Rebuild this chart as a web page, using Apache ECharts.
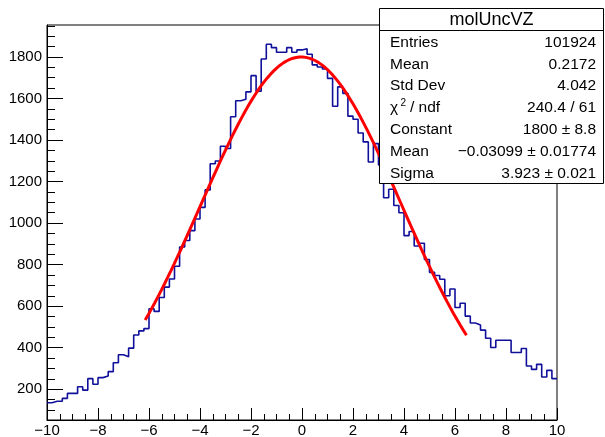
<!DOCTYPE html>
<html>
<head>
<meta charset="utf-8">
<script src="https://cdn.jsdelivr.net/npm/echarts@6.0.0/dist/echarts.min.js"></script>
<style>
html, body { margin: 0; padding: 0; background: #fff; }
#molUncVZ { width: 605px; height: 437px; }
</style>
</head>
<body>
<div id="molUncVZ"></div>
<script>
// histogram: 100 bins from -10 to 10
var binLow = -10;
var binWidth = 0.2;
var counts = [
  135, 142, 142, 156, 180, 180, 212, 196, 251, 224,
  256, 264, 285, 328, 366, 357, 398, 461, 481, 492,
  588, 575, 642, 692, 731, 792, 885, 916, 964, 1020,
  1076, 1160, 1286, 1299, 1370, 1359, 1512, 1589, 1596, 1632,
  1710, 1635, 1790, 1861, 1845, 1823, 1823, 1845, 1823, 1834,
  1840, 1813, 1762, 1752, 1742, 1697, 1563, 1656, 1625, 1515,
  1500, 1434, 1391, 1294, 1383, 1280, 1122, 1163, 1085, 1050,
  940, 960, 890, 903, 825, 763, 748, 730, 650, 683,
  594, 614, 552, 519, 510, 485, 446, 401, 436, 436,
  436, 377, 377, 396, 312, 296, 320, 259, 291, 251
];

// gaus fit (from the stats box)
var fitConstant = 1800;
var fitMean = -0.03099;
var fitSigma = 3.923;
var fitRange = [-6.15, 6.45];

var yMajorTicks = [200, 400, 600, 800, 1000, 1200, 1400, 1600, 1800];

var statNames = ['Entries', 'Mean', 'Std Dev', '', 'Constant', 'Mean', 'Sigma'];
var statValues = ['101924', '0.2172', '4.042', '240.4 / 61', '1800 \u00b1 8.8',
                  '\u22120.03099 \u00b1 0.01774', '3.923 \u00b1 0.021'];

var myChart = echarts.init(document.getElementById('molUncVZ'));

var histData = counts.map(function (c, i) {
  return [binLow + i * binWidth, c];
});
histData.push([binLow + counts.length * binWidth, counts[counts.length - 1]]);

var fitData = [];
for (var k = 0; k <= 100; k++) {
  var x = fitRange[0] + (fitRange[1] - fitRange[0]) * k / 100;
  var t = (x - fitMean) / fitSigma;
  fitData.push([x, fitConstant * Math.exp(-0.5 * t * t)]);
}

var yMinorTicks = [];
for (var v = 100; v <= 1950; v += 50) yMinorTicks.push(v);

var font = '"Liberation Sans", Arial, sans-serif';

var statTexts = [];
var rowY = 42.5;
for (var i = 0; i < statNames.length; i++) {
  var y = rowY + i * 21.8;
  if (statNames[i]) {
    statTexts.push({ type: 'text', z: 101, x: 390, y: y,
      style: { text: statNames[i], font: '15.5px ' + font, fill: '#000',
               align: 'left', verticalAlign: 'middle', textAlign: 'left', textVerticalAlign: 'middle' } });
  }
  statTexts.push({ type: 'text', z: 101, x: 596, y: y,
    style: { text: statValues[i], font: '15.5px ' + font, fill: '#000',
             align: 'right', verticalAlign: 'middle', textAlign: 'right', textVerticalAlign: 'middle' } });
}
// chi2 / ndf label
var chiY = rowY + 3 * 21.8;
statTexts.push({ type: 'text', z: 101, x: 390, y: chiY,
  style: { text: '\u03c7', font: '15.5px ' + font, fill: '#000', align: 'left', verticalAlign: 'middle', textAlign: 'left', textVerticalAlign: 'middle' } });
statTexts.push({ type: 'text', z: 101, x: 400.5, y: chiY - 5,
  style: { text: '2', font: '10px ' + font, fill: '#000', align: 'left', verticalAlign: 'middle', textAlign: 'left', textVerticalAlign: 'middle' } });
statTexts.push({ type: 'text', z: 101, x: 410, y: chiY,
  style: { text: '/ ndf', font: '15.5px ' + font, fill: '#000', align: 'left', verticalAlign: 'middle', textAlign: 'left', textVerticalAlign: 'middle' } });

var option = {
  animation: false,
  backgroundColor: '#fff',
  grid: {
    left: 47, right: 48, top: 25, bottom: 17,
    show: true, borderColor: '#000', borderWidth: 1,
    containLabel: false, outerBoundsMode: 'none'
  },
  xAxis: {
    type: 'value',
    min: -10, max: 10, interval: 2,
    axisLine: { show: true, onZero: false, lineStyle: { color: '#000', width: 1 } },
    axisTick: { show: true, inside: true, length: 12, lineStyle: { color: '#000' } },
    minorTick: { show: true, splitNumber: 4, length: 6, lineStyle: { color: '#000' } },
    splitLine: { show: false },
    axisLabel: {
      margin: 3, color: '#000', fontSize: 15, fontFamily: font,
      formatter: function (val) { return String(val).replace('-', '\u2212'); }
    }
  },
  yAxis: [{
    type: 'value',
    min: 52, max: 1954,
    axisLine: { show: true, onZero: false, lineStyle: { color: '#000', width: 1 } },
    axisTick: { show: true, inside: true, length: 16, customValues: yMajorTicks, lineStyle: { color: '#000' } },
    splitLine: { show: false },
    axisLabel: {
      margin: 5, color: '#000', fontSize: 15, fontFamily: font, customValues: yMajorTicks,
      formatter: function (val) { return String(val); }
    }
  }, {
    type: 'value',
    min: 52, max: 1954,
    position: 'left',
    axisLine: { show: false, onZero: false },
    axisTick: { show: true, inside: true, length: 8, customValues: yMinorTicks, lineStyle: { color: '#000' } },
    splitLine: { show: false },
    axisLabel: { show: false }
  }],
  series: [{
    name: 'molUncVZ',
    type: 'line',
    step: 'end',
    data: histData,
    symbol: 'none',
    silent: true,
    lineStyle: { color: '#10109a', width: 1.6 },
    z: 2
  }, {
    name: 'gaus',
    type: 'line',
    data: fitData,
    symbol: 'none',
    silent: true,
    smooth: false,
    lineStyle: { color: '#ff0000', width: 3 },
    z: 3
  }],
  graphic: [
    { type: 'rect', z: 100, shape: { x: 379.5, y: 8.5, width: 224, height: 175 },
      style: { fill: '#fff', stroke: '#000', lineWidth: 1 } },
    { type: 'line', z: 101, shape: { x1: 379.5, y1: 30.5, x2: 603.5, y2: 30.5 },
      style: { stroke: '#000', lineWidth: 1 } },
    { type: 'text', z: 101, x: 491.5, y: 20,
      style: { text: 'molUncVZ', font: '18px ' + font, fill: '#000',
               align: 'center', verticalAlign: 'middle', textAlign: 'center', textVerticalAlign: 'middle' } }
  ].concat(statTexts)
};

if (option && typeof option === 'object') {
  myChart.setOption(option, true);
}
</script>
</body>
</html>
